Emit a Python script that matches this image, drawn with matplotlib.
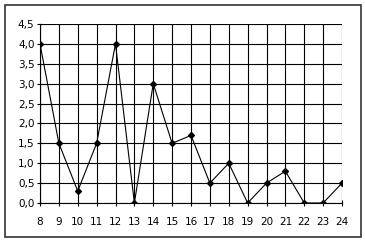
import numpy as np
import matplotlib.pyplot as plt
from matplotlib.patches import Rectangle

# datos
x = [8, 9, 10, 11, 12, 13, 14, 15, 16, 17, 18, 19, 20, 21, 22, 23, 24]
y = [4.0, 1.5, 0.3, 1.5, 4.0, 0.0, 3.0, 1.5, 1.7, 0.5, 1.0, 0.0, 0.5, 0.8, 0.0, 0.0, 0.5]
y_ticks = [0.0, 0.5, 1.0, 1.5, 2.0, 2.5, 3.0, 3.5, 4.0, 4.5]

W, H = 365, 244
fig = plt.figure(figsize=(W / 100, H / 100), dpi=100)
ax = fig.add_axes([40 / W, 1 - 203 / H, (342 - 40) / W, (203 - 24) / H])

#* marco exterior
fig.patches.append(Rectangle((5 / W, 1 - 237 / H), (361 - 5) / W, (237 - 5) / H,
                             transform=fig.transFigure, fill=False,
                             edgecolor='#333333', linewidth=1.2))

ax.plot(x, y, color='black', linewidth=0.8, marker='D', markersize=3, zorder=3)

ax.set_xlim(8, 24)
ax.set_ylim(0, 4.5)
ax.set_xticks(x)
ax.set_yticks(y_ticks)
ax.set_yticklabels([f"{v:.1f}".replace('.', ',') for v in y_ticks])
ax.grid(True, color='black', linewidth=0.8)

for s in ['top', 'right']:
    ax.spines[s].set_visible(False)
for s in ['left', 'bottom']:
    ax.spines[s].set_linewidth(0.8)

ax.tick_params(axis='x', length=4, width=0.8, pad=8, labelsize=7.5, direction='inout')
ax.tick_params(axis='y', length=4, width=0.8, pad=2, labelsize=7.5, direction='inout')

fig.savefig('out.png', dpi=100)
